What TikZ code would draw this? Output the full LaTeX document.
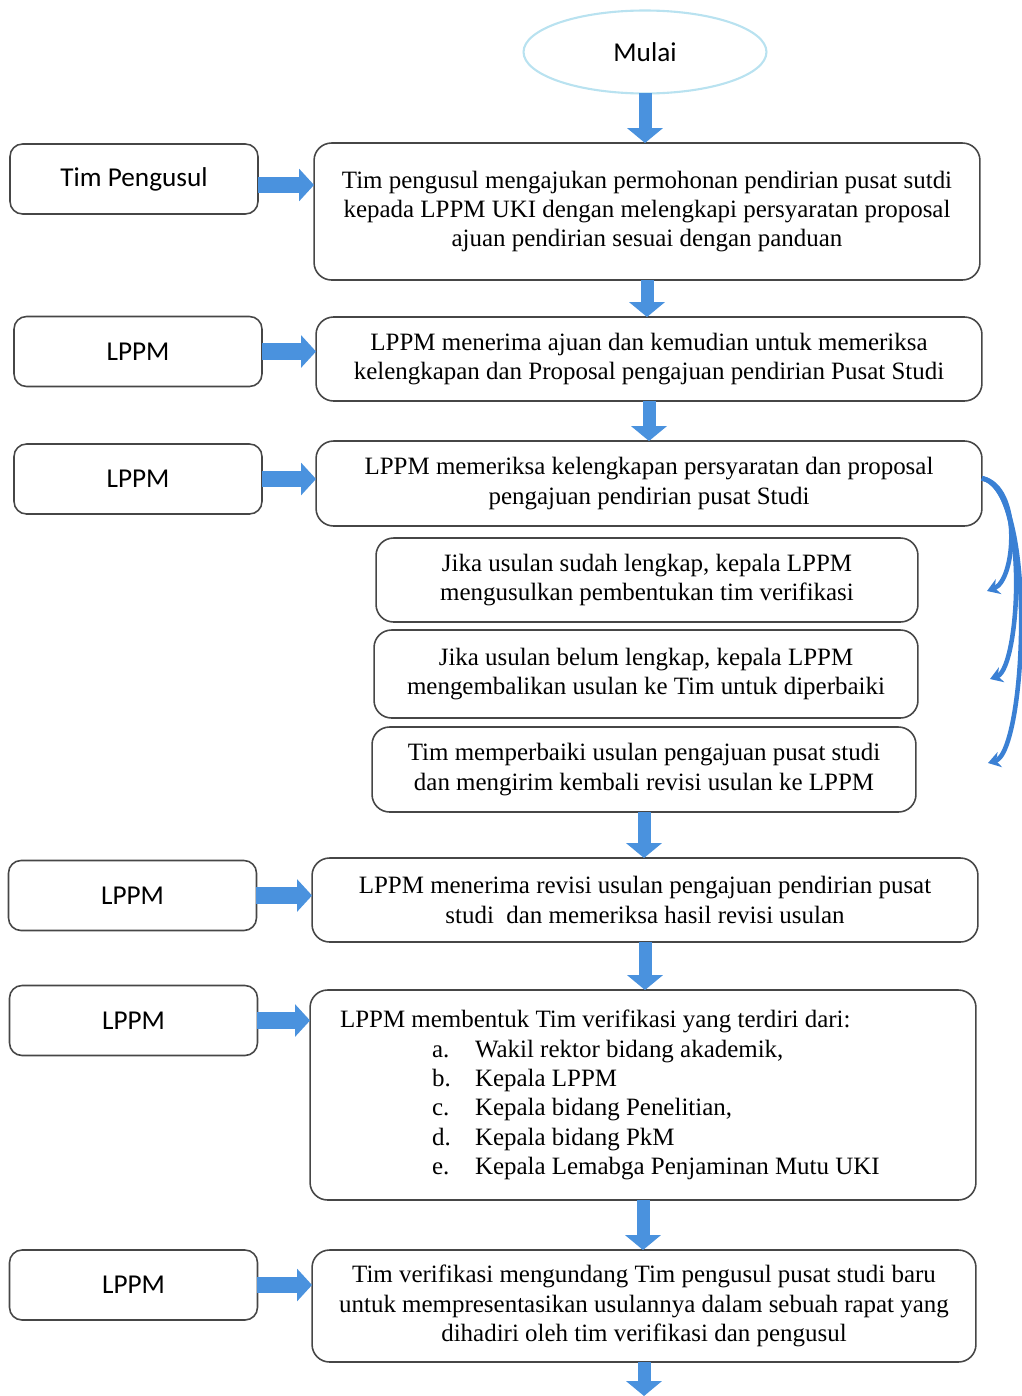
\documentclass[tikz,border=0pt]{standalone}
\usepackage{fontspec}
\setmainfont{Liberation Serif}
\newfontfamily\calibfont{Carlito}
\usepackage{xcolor}
\usetikzlibrary{arrows.meta,shapes.geometric}
\definecolor{arrblue}{RGB}{74,146,222}
\definecolor{curveblue}{RGB}{58,128,212}
\definecolor{boxgray}{RGB}{70,70,70}
\definecolor{startcyan}{RGB}{185,226,240}

\begin{document}
\begin{tikzpicture}
	[x=0.02cm,y=-0.02cm,
	every node/.style={inner sep=0pt,outer sep=0pt},
	box/.style={draw=boxgray,line width=0.9pt,rounded corners=0.35cm,align=center,font=\fontsize{14.2}{16.7}\selectfont},
	actor/.style={draw=boxgray,line width=0.9pt,rounded corners=0.25cm,minimum width=4.96cm,minimum height=1.4cm,font=\calibfont\fontsize{15.5}{18}\selectfont},
	varr/.style={arrblue,line width=7.4pt,-{Triangle[width=20pt,length=8.5pt]}},
	harr/.style={arrblue,line width=9.5pt,-{Triangle[width=18pt,length=8.5pt]}},
	carr/.style={curveblue,line width=2.6pt,-{Stealth[width=9pt,length=7pt]}}]

	\useasboundingbox (0,0) rectangle (1021,1396);

	%\draw[help lines] (0,0) grid (1021,1396);
	\node[ellipse,draw=startcyan,line width=1.2pt,minimum width=4.86cm,minimum height=1.66cm,font=\calibfont\fontsize{15.5}{18}\selectfont] (mulai) at (645,52) {Mulai};

	% actors on the left
	\node[actor] (l1) at (134,179) {Tim Pengusul};
	\node[actor] (l2) at (138,351.5) {LPPM};
	\node[actor] (l3) at (138,479) {LPPM};
	\node[actor] (l4) at (132.5,895.5) {LPPM};
	\node[actor] (l5) at (133.5,1020.5) {LPPM};
	\node[actor] (l6) at (133.5,1285) {LPPM};

	% steps
	\node[box,minimum width=13.32cm,minimum height=2.74cm] (m1) at (647,211.5) {Tim pengusul mengajukan permohonan pendirian pusat sutdi\\kepada LPPM UKI dengan melengkapi persyaratan proposal\\ajuan pendirian sesuai dengan panduan};
	\node[box,minimum width=13.32cm,minimum height=1.68cm] (m2) at (649,359) {LPPM menerima ajuan dan kemudian untuk memeriksa\\kelengkapan dan Proposal pengajuan pendirian Pusat Studi};
	\node[box,minimum width=13.32cm,minimum height=1.7cm] (m3) at (649,483.5) {LPPM memeriksa kelengkapan persyaratan dan proposal\\pengajuan pendirian pusat Studi};
	\node[box,minimum width=10.84cm,minimum height=1.68cm] (s1) at (647,580) {Jika usulan sudah lengkap, kepala LPPM\\mengusulkan pembentukan tim verifikasi};
	\node[box,minimum width=10.88cm,minimum height=1.76cm] (s2) at (646,674) {Jika usulan belum lengkap, kepala LPPM\\mengembalikan usulan ke Tim untuk diperbaiki};
	\node[box,minimum width=10.88cm,minimum height=1.7cm] (s3) at (644,769.5) {Tim memperbaiki usulan pengajuan pusat studi\\dan mengirim kembali revisi usulan ke LPPM};
	\node[box,minimum width=13.32cm,minimum height=1.68cm] (m4) at (645,900) {LPPM menerima revisi usulan pengajuan pendirian pusat\\studi~ dan memeriksa hasil revisi usulan};
	\node[box,align=left,text width=12.12cm,minimum width=13.32cm,minimum height=4.2cm] (m5) at (643,1095) {\spaceskip=0pt\xspaceskip=0pt
		LPPM membentuk Tim verifikasi yang terdiri dari:\\
		\hspace*{1.84cm}\makebox[0.86cm][l]{a.}Wakil rektor bidang akademik,\\
		\hspace*{1.84cm}\makebox[0.86cm][l]{b.}Kepala LPPM\\
		\hspace*{1.84cm}\makebox[0.86cm][l]{c.}Kepala bidang Penelitian,\\
		\hspace*{1.84cm}\makebox[0.86cm][l]{d.}Kepala bidang PkM\\
		\hspace*{1.84cm}\makebox[0.86cm][l]{e.}Kepala Lemabga Penjaminan Mutu UKI};
	\node[box,minimum width=13.28cm,minimum height=2.24cm] (m6) at (644,1306) {Tim verifikasi mengundang Tim pengusul pusat studi baru\\untuk mempresentasikan usulannya dalam sebuah rapat yang\\dihadiri oleh tim verifikasi dan pengusul};

	\coordinate (cont) at (642,1396);
	\coordinate (e1) at (987,591);
	\coordinate (e2) at (990,679);
	\coordinate (e3) at (988,763);

	\draw[varr] (mulai.south) -- (mulai.south |- m1.north);
	\draw[varr] (m1.south) -- (m1.south |- m2.north);
	\draw[varr] (m2.south) -- (m2.south |- m3.north);
	\draw[varr] (s3.south) -- (s3.south |- m4.north);
	\draw[varr] (m4.south) -- (m4.south |- m5.north);
	\draw[varr] (m5.south) -- (m5.south |- m6.north);
	\draw[varr] (m6.south) -- (m6.south |- cont);

	\draw[harr] (l1.east) ++(0,6) -- (m1.west |- 0,185);
	\draw[harr] (l2.east) -- (l2.east -| m2.west);
	\draw[harr] (l3.east) -- (l3.east -| m3.west);
	\draw[harr] (l4.east) -- (l4.east -| m4.west);
	\draw[harr] (l5.east) -- (l5.east -| m5.west);
	\draw[harr] (l6.east) -- (l6.east -| m6.west);

	\draw[carr] ([yshift=3pt]m3.east) .. controls (1022,486) and (1016,580) .. (e1);
	\draw[carr] ([yshift=3pt]m3.east) .. controls (1030,488) and (1020,668) .. (e2);
	\draw[carr] ([yshift=3pt]m3.east) .. controls (1038,490) and (1026,752) .. (e3);

\end{tikzpicture}
\end{document}
